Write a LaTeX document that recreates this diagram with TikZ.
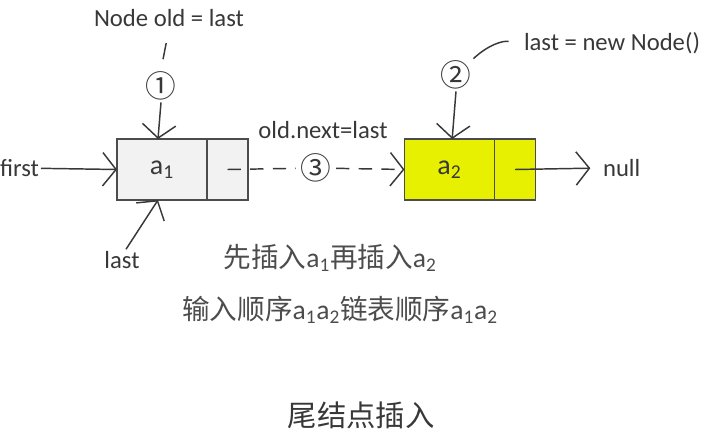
\documentclass[tikz,border=0pt]{standalone}
\usepackage{fontspec}
\setmainfont{Carlito}
\newfontfamily\cjk{Noto Sans CJK SC}
\usetikzlibrary{arrows.meta,positioning}
\definecolor{nodeyellow}{RGB}{230,240,0}
\newcommand{\elem}[1]{{\rmfamily a\textsubscript{#1}}}

\begin{document}
\begin{tikzpicture}[x=0.75pt, y=-0.75pt, color=black!78, line width=1.1pt,
		>={Straight Barb[length=10pt,width=25pt]},
		databox/.style={draw=black!70, line width=1.2pt, outer sep=0pt, inner sep=0pt, minimum width=67.5pt, minimum height=45.75pt, font=\fontsize{21}{21}\selectfont},
		ptrbox/.style={draw=black!70, line width=1.2pt, outer sep=0pt, inner sep=0pt, minimum width=30.75pt, minimum height=45.75pt},
		stepnum/.style={font=\cjk\fontsize{23}{23}\selectfont, inner sep=1pt},
		lbl/.style={font=\fontsize{18.5}{18.5}\selectfont, inner sep=1pt},
		cjklbl/.style={font=\cjk\fontsize{20.7}{20.7}\selectfont, inner sep=1pt, text=black!70}]
				\useasboundingbox (0,0) rectangle (718,446);
				\node[databox, fill=black!5] (A1) at (162,169.5) {\elem1};
				\node[ptrbox, fill=black!5, right=0pt of A1] (P1) {};
				\node[databox, fill=nodeyellow] (A2) at (449.5,169.5) {\elem2};
				\node[ptrbox, fill=nodeyellow, right=0pt of A2] (P2) {};
				\node[lbl] (OLD) at (169,18) {Node old = last};
				\node[lbl] (NEW) at (612,43) {last = new Node()};
				\node[lbl] (NEXT) at (323,130) {old.next=last};
				\node[lbl, anchor=west] (FIRST) at (-2,168) {first};
				\node[lbl] (LAST) at (122,260) {last};
				\node[lbl, anchor=west] (NULL) at (601,168) {null};
				\node[stepnum] (N1) at (161,86) {①};
				\node[stepnum] (N2) at (456,75) {②};
				\node[stepnum] (N3) at (316,168) {③};
				\draw[shorten <=11pt, shorten >=8pt] (OLD.south) -- (N1.north);
				\draw[->] (N1.south) -- ([xshift=-3pt]A1.north);
				\draw[->] (N2.south) -- ([xshift=2pt]A2.north);
				\draw[shorten >=10pt] (N2.north east) to[bend left=25] (NEW.west);
				\draw[->] (FIRST) -- (A1.west);
				\draw[->] ([xshift=3pt]LAST.north) -- ([xshift=-3pt]A1.south);
				\draw[dash pattern=on 10pt off 7pt, shorten >=2pt] (P1.center) -- (N3);
				\draw[->, dash pattern=on 10pt off 7pt, shorten <=2pt] (N3) -- (A2.west);
				\draw[->, shorten >=8pt] (P2.center) -- (NULL.west);
				\node[cjklbl] (LINE1) at (330,258) {先插入\elem1再插入\elem2};
				\node[cjklbl] (LINE2) at (340,310) {输入顺序\elem1\elem2链表顺序\elem1\elem2};
				\node[font=\cjk\fontsize{22}{22}\selectfont] (TITLE) at (361,415) {尾结点插入};
			\end{tikzpicture}
\end{document}
